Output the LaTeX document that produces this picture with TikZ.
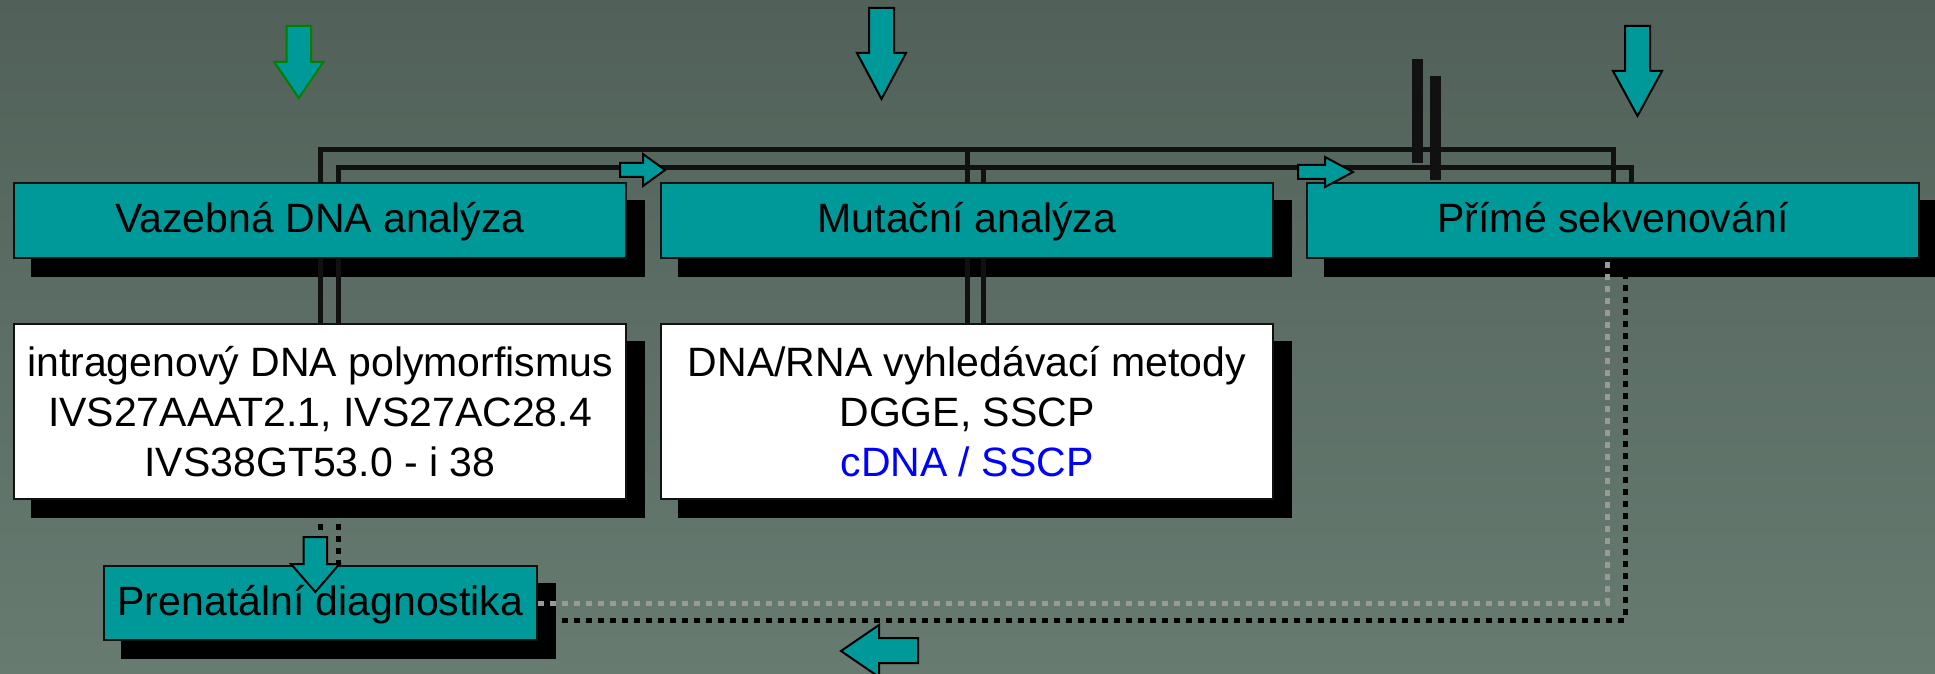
\documentclass[tikz,border=0pt]{standalone}
\usepackage{fontspec}
\setmainfont{Liberation Sans}
\usetikzlibrary{calc}
\definecolor{tealbox}{HTML}{009999}
\definecolor{bgtop}{HTML}{516159}
\definecolor{bgbot}{HTML}{677B71}
\definecolor{edgec}{HTML}{111111}
\definecolor{dotgray}{HTML}{999999}
\definecolor{arrgreen}{HTML}{008000}
\pgfdeclarelayer{bgl}
\pgfdeclarelayer{shl}
\pgfdeclarelayer{lnl}
\pgfsetlayers{bgl,shl,lnl,main}
\begin{document}
\begin{tikzpicture}[x=0.5pt,y=-0.5pt,
  font=\fontsize{20.5pt}{25pt}\selectfont,
  tbox/.style={draw=edgec, line width=0.7pt, fill=tealbox, minimum width=306pt, minimum height=37.5pt, inner sep=0pt, text height=16.5pt, text depth=4pt},
  wbox/.style={draw=edgec, line width=0.7pt, fill=white, minimum width=306pt, minimum height=87.5pt, inner sep=0pt, align=center},
  conn/.style={draw=edgec, line width=2.5pt, line join=miter},
  dotb/.style={draw=black, line width=2.5pt, dash pattern=on 3pt off 3pt},
  dotg/.style={draw=dotgray, line width=2.5pt, dash pattern=on 3pt off 3pt},
  barrow/.style={fill=tealbox, draw=black, line width=1pt, line join=miter},
  shadowbox/.style={fill=black},
]
\useasboundingbox (0,0) rectangle (1935,674);
\begin{pgfonlayer}{bgl}
\shade[top color=bgtop, bottom color=bgbot] (0,0) rectangle (1935,674);
\end{pgfonlayer}

% boxes
\node[tbox] (b1) at (320,220.5) {Vazebná DNA analýza};
\node[tbox] (b2) at (967,220.5) {Mutační analýza};
\node[tbox] (b3) at (1613,220.5) {Přímé sekvenování};
\node[wbox] (wb1) at (320,411.5) {intragenový DNA polymorfismus\\IVS27AAAT2.1, IVS27AC28.4\\IVS38GT53.0 - i 38};
\node[wbox] (wb2) at (967,411.5) {DNA/RNA vyhledávací metody\\DGGE, SSCP\\\textcolor{blue}{cDNA / SSCP}};
\node[tbox, minimum width=216.5pt, minimum height=37pt, text height=16pt, text depth=4pt] (pd) at (320.5,603) {Prenatální diagnostika};

% shadows
\begin{pgfonlayer}{shl}
\foreach \n in {b1,b2,b3,wb1,wb2,pd}{
  \fill[shadowbox] ([shift={(9pt,-9pt)}]\n.south west) rectangle ([shift={(9pt,-9pt)}]\n.north east);
}
\end{pgfonlayer}

% connectors
\coordinate (top1) at (0,150);
\coordinate (top2) at (0,168);
\coordinate (w1i) at ([xshift=9pt]wb1.north);
\coordinate (b3i) at ([xshift=9pt]b3.north);
\coordinate (w2i) at ([xshift=8pt]wb2.north);
\coordinate (w1s) at ([xshift=9pt]wb1.south);
\coordinate (b3g) at ([xshift=-3pt]b3.south);
\coordinate (b3k) at ([xshift=6pt]b3.south);
\coordinate (pde) at ([yshift=-8.5pt]pd.east);
\begin{pgfonlayer}{lnl}
\draw[conn] (wb1.north) -- (wb1.north |- top1) -| (b3.north);
\draw[conn] (w1i) -- (w1i |- top2) -| (b3i);
\draw[conn] (wb2.north |- top1) -- (wb2.north);
\draw[conn] (w2i |- top2) -- (w2i);
\draw[dotb] (wb1.south) -- (wb1.south |- pd.north);
\draw[dotb] (w1s) -- (w1s |- pd.north);
\draw[dotg] (pd.east) -| (b3g);
\draw[dotb] (pde) -| (b3k);
\end{pgfonlayer}

% black bars
\fill[edgec] (1412,59) rectangle (1423,163);
\fill[edgec] (1430,76) rectangle (1441,180);

% small arrows on the inner line
\draw[barrow] (620,163) -- (643,163) -- (643,154) -- (665,170) -- (643,186) -- (643,177) -- (620,177) -- cycle;
\draw[barrow] (1298,165) -- (1325,165) -- (1325,157) -- (1353,172) -- (1325,187) -- (1325,179) -- (1298,179) -- cycle;

% big down arrows
\draw[barrow, draw=arrgreen] (286.6,26) -- (311,26) -- (311,62) -- (323.3,62) -- (298.8,98) -- (274.3,62) -- (286.6,62) -- cycle;
\draw[barrow] (869,8) -- (894,8) -- (894,53) -- (906,53) -- (881.5,99) -- (857,53) -- (869,53) -- cycle;
\draw[barrow] (1625,26) -- (1650,26) -- (1650,71) -- (1662,71) -- (1637.5,116) -- (1613,71) -- (1625,71) -- cycle;
\draw[barrow] (303.6,537) -- (327,537) -- (327,564) -- (339.5,564) -- (315.3,592) -- (291,564) -- (303.6,564) -- cycle;
% left arrow at bottom
\draw[barrow] (918,638) -- (918,663) -- (879,663) -- (879,677) -- (841,651) -- (879,625) -- (879,638) -- cycle;
\end{tikzpicture}
\end{document}
